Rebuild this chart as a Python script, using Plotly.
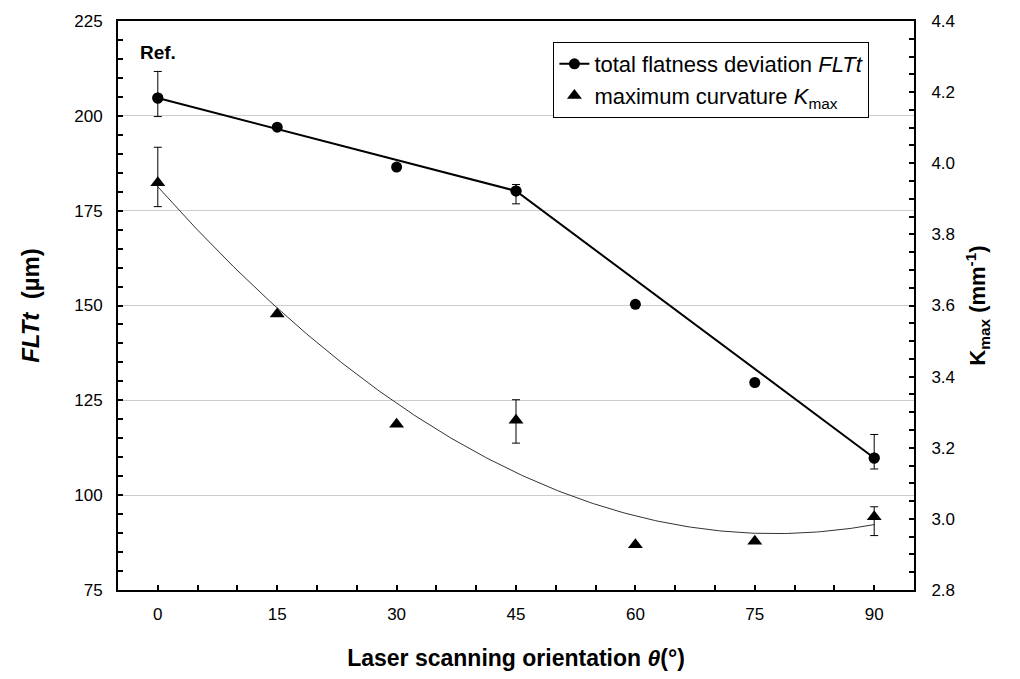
import numpy as np
import plotly.graph_objects as go

theta = [0, 15, 30, 45, 60, 75, 90]
flt = [204.7, 197.0, 186.5, 180.2, 150.3, 129.7, 109.8]
flt_err_plus = [7.0, None, None, 1.7, None, None, 6.2]
flt_err_minus = [4.9, None, None, 3.4, None, None, 2.9]
kmax = [3.945, 3.576, 3.266, 3.277, 2.927, 2.937, 3.006]
k_err_plus = [0.10, None, None, 0.058, None, None, 0.028]
k_err_minus = [0.067, None, None, 0.064, None, None, 0.053]
flt_line_idx = [0, 3, 6]  # FLTt guide line joins these points

FONT = "Liberation Sans, Arial, sans-serif"

fig = go.Figure()

# Kmax polynomial trendline (2nd order fit of the data)
coef = np.polyfit(theta, kmax, 2)
tf = np.linspace(min(theta), max(theta), 200)
fig.add_trace(go.Scatter(x=tf, y=np.polyval(coef, tf), yaxis="y2", mode="lines",
                         line=dict(color="#333333", width=1), showlegend=False, hoverinfo="skip"))

# FLTt guide line (legend entry)
fig.add_trace(go.Scatter(x=[theta[i] for i in flt_line_idx], y=[flt[i] for i in flt_line_idx],
                         mode="lines+markers", line=dict(color="black", width=2),
                         marker=dict(symbol="circle", size=11, color="black"),
                         name="total flatness deviation <i>FLTt</i>"))
# FLTt points with error bars
fig.add_trace(go.Scatter(x=theta, y=flt, mode="markers",
                         marker=dict(symbol="circle", size=11, color="black"),
                         error_y=dict(type="data", symmetric=False, array=flt_err_plus,
                                      arrayminus=flt_err_minus, color="black", thickness=1, width=4),
                         showlegend=False))
# Kmax points
fig.add_trace(go.Scatter(x=theta, y=kmax, yaxis="y2", mode="markers",
                         marker=dict(symbol="triangle-up", size=13, color="black"),
                         error_y=dict(type="data", symmetric=False, array=k_err_plus,
                                      arrayminus=k_err_minus, color="black", thickness=1, width=4),
                         name="maximum curvature <i>K</i><sub>max</sub>"))

fig.add_annotation(x=0, y=216.7, xref="x", yref="y", text="<b>Ref.</b>", showarrow=False,
                   font=dict(size=19, color="black", family=FONT), xanchor="center", yanchor="middle")

fig.update_layout(
    width=1020, height=679,
    margin=dict(l=118, r=106, t=15, b=87),
    paper_bgcolor="white", plot_bgcolor="white",
    font=dict(family=FONT, color="black", size=17),
    showlegend=True,
    legend=dict(x=0.547, y=0.963, xanchor="left", yanchor="top",
                bordercolor="black", borderwidth=1, bgcolor="white",
                font=dict(size=22, family=FONT, color="black"), tracegroupgap=4),
    xaxis=dict(range=[-5, 95], tickmode="linear", tick0=0, dtick=15,
               ticks="inside", ticklen=5, tickwidth=1.5, tickcolor="black",
               minor=dict(dtick=5, tick0=0, ticks="inside", ticklen=5, tickwidth=1.5, tickcolor="black"),
               showline=True, linecolor="black", linewidth=2, mirror=True,
               showgrid=False, zeroline=False, ticklabelstandoff=8,
               tickfont=dict(size=17),
               title=dict(text="<b>Laser scanning orientation <i>θ</i>(°)</b>", font=dict(size=23), standoff=26)),
    yaxis=dict(range=[75, 225], tickmode="linear", tick0=75, dtick=25,
               ticks="inside", ticklen=5, tickwidth=1.5, tickcolor="black",
               minor=dict(dtick=5, tick0=75, ticks="inside", ticklen=5, tickwidth=1.5, tickcolor="black"),
               showline=True, linecolor="black", linewidth=2,
               showgrid=True, gridcolor="#cccccc", gridwidth=1, zeroline=False, ticklabelstandoff=10,
               tickfont=dict(size=17),
               title=dict(text="<b><i>FLTt</i>  (µm)</b>", font=dict(size=24), standoff=28)),
    yaxis2=dict(range=[2.8, 4.4], overlaying="y", side="right", tickmode="linear", tick0=2.8, dtick=0.2,
                tickformat=".1f",
                ticks="inside", ticklen=5, tickwidth=1.5, tickcolor="black",
                minor=dict(dtick=0.05, tick0=2.8, ticks="inside", ticklen=5, tickwidth=1.5, tickcolor="black"),
                showline=True, linecolor="black", linewidth=2,
                showgrid=False, zeroline=False, ticklabelstandoff=12,
                tickfont=dict(size=17),
                title=dict(text="<b>K<sub>max</sub> (mm<sup>-1</sup>)</b>", font=dict(size=22), standoff=16)),
)

fig.write_html("out.html")
